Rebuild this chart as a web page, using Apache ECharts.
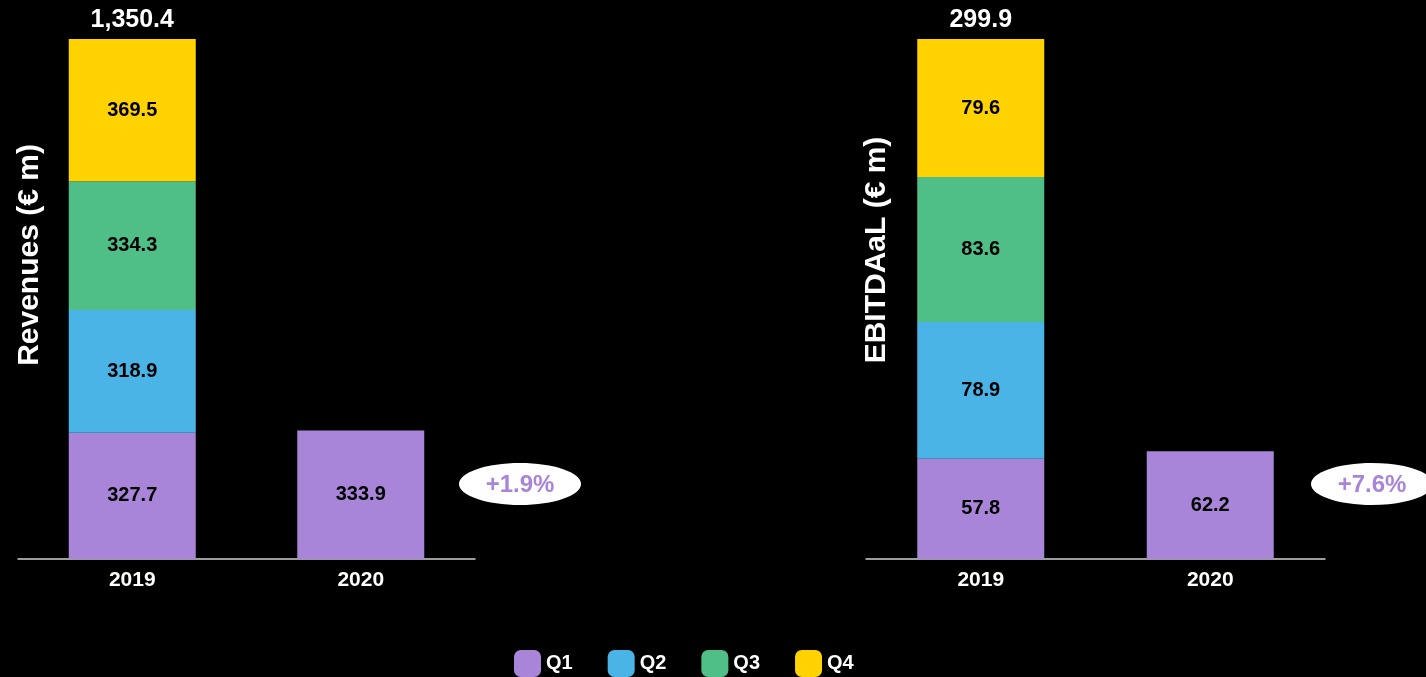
<!DOCTYPE html>
<html>
<head>
<meta charset="utf-8">
<style>
  html, body { margin: 0; padding: 0; background: #000; }
  #chart { width: 1426px; height: 677px; }
</style>
<script src="https://cdn.jsdelivr.net/npm/echarts@6/dist/echarts.min.js"></script>
</head>
<body>
<div id="chart"></div>
<script>
// Quarterly figures, 2019 full year vs 2020 Q1
const years = ['2019', '2020'];
const quarters = ['Q1', 'Q2', 'Q3', 'Q4'];

const revenueQ1 = [327.7, 333.9];
const revenueQ2 = [318.9, null];
const revenueQ3 = [334.3, null];
const revenueQ4 = [369.5, null];

const ebitdaQ1 = [57.8, 62.2];
const ebitdaQ2 = [78.9, null];
const ebitdaQ3 = [83.6, null];
const ebitdaQ4 = [79.6, null];

const revenueGrowth = '+1.9%';
const ebitdaGrowth = '+7.6%';

const colors = {
  Q1: '#A885D8',
  Q2: '#4BB4E6',
  Q3: '#50BE87',
  Q4: '#FFD200'
};

const FONT = '"Liberation Sans", Arial, sans-serif';

function fmtTotal(v) {
  return v.toLocaleString('en-US', { minimumFractionDigits: 1, maximumFractionDigits: 1 });
}

function totalsOf(rows) {
  return years.map((_, i) => {
    if (rows.slice(1).some(r => r[i] == null)) return null;
    return Math.round(rows.reduce((s, r) => s + (r[i] || 0), 0) * 10) / 10;
  });
}

function stackSeries(rows, axisIndex, stackName) {
  const list = rows.map((vals, qi) => ({
    name: quarters[qi],
    type: 'bar',
    stack: stackName,
    xAxisIndex: axisIndex,
    yAxisIndex: axisIndex,
    barWidth: 127,
    data: vals,
    itemStyle: { color: colors[quarters[qi]] },
    label: {
      show: true,
      position: 'inside',
      color: '#000',
      fontFamily: FONT,
      fontWeight: 'bold',
      fontSize: 20,
      formatter: p => p.value.toFixed(1)
    },
    emphasis: { disabled: true }
  }));
  const totals = totalsOf(rows);
  // zero-height cap that carries the full-year total above the stack
  list.push({
    name: 'total',
    type: 'bar',
    stack: stackName,
    xAxisIndex: axisIndex,
    yAxisIndex: axisIndex,
    barWidth: 127,
    data: totals.map(t => (t == null ? null : 0)),
    itemStyle: { color: 'transparent' },
    label: {
      show: true,
      position: 'top',
      distance: 6,
      color: '#fff',
      fontFamily: FONT,
      fontWeight: 'bold',
      fontSize: 25,
      formatter: p => fmtTotal(totals[p.dataIndex])
    },
    emphasis: { disabled: true },
    silent: true
  });
  return { list, totals };
}

const rev = stackSeries([revenueQ1, revenueQ2, revenueQ3, revenueQ4], 0, 'rev');
const ebd = stackSeries([ebitdaQ1, ebitdaQ2, ebitdaQ3, ebitdaQ4], 1, 'ebd');

function xAxisCfg(gridIndex) {
  return {
    type: 'category',
    gridIndex,
    data: years,
    axisLine: { lineStyle: { color: '#d0d0d0', width: 1.5 } },
    axisTick: { show: false },
    axisLabel: {
      color: '#fff',
      fontFamily: FONT,
      fontWeight: 'bold',
      fontSize: 21,
      margin: 11
    }
  };
}

function yAxisCfg(gridIndex, max) {
  return {
    type: 'value',
    gridIndex,
    min: 0,
    max,
    show: false,
    splitLine: { show: false }
  };
}

function growthBadge(cx, cy, text) {
  return {
    type: 'group',
    children: [
      {
        type: 'ellipse',
        shape: { cx, cy, rx: 61, ry: 21 },
        style: { fill: '#fff' }
      },
      {
        type: 'text',
        x: cx,
        y: cy + 1,
        style: {
          text,
          fill: '#A885D8',
          font: 'bold 24px ' + FONT,
          align: 'center',
          verticalAlign: 'middle'
        }
      }
    ]
  };
}

function axisTitle(x, y, text) {
  return {
    type: 'text',
    x,
    y,
    rotation: Math.PI / 2,
    style: {
      text,
      fill: '#fff',
      font: 'bold 30px ' + FONT,
      align: 'center',
      verticalAlign: 'middle'
    }
  };
}

const chart = echarts.init(document.getElementById('chart'), null, { renderer: 'canvas' });

chart.setOption({
  backgroundColor: '#000',
  animation: false,
  grid: [
    { left: 18, width: 457, top: 39, bottom: 118 },
    { left: 866, width: 459, top: 39, bottom: 118 }
  ],
  xAxis: [xAxisCfg(0), xAxisCfg(1)],
  yAxis: [yAxisCfg(0, rev.totals[0]), yAxisCfg(1, ebd.totals[0])],
  legend: {
    data: quarters,
    left: 509,
    top: 645,
    icon: 'roundRect',
    itemWidth: 27,
    itemHeight: 27,
    itemGap: 35,
    textStyle: {
      color: '#fff',
      fontFamily: FONT,
      fontWeight: 'bold',
      fontSize: 20
    },
    selectedMode: false
  },
  graphic: [
    axisTitle(30, 255, 'Revenues (€ m)'),
    axisTitle(877, 250, 'EBITDAaL (€ m)'),
    growthBadge(520, 484, revenueGrowth),
    growthBadge(1372, 484, ebitdaGrowth)
  ],
  series: rev.list.concat(ebd.list)
});
</script>
</body>
</html>
